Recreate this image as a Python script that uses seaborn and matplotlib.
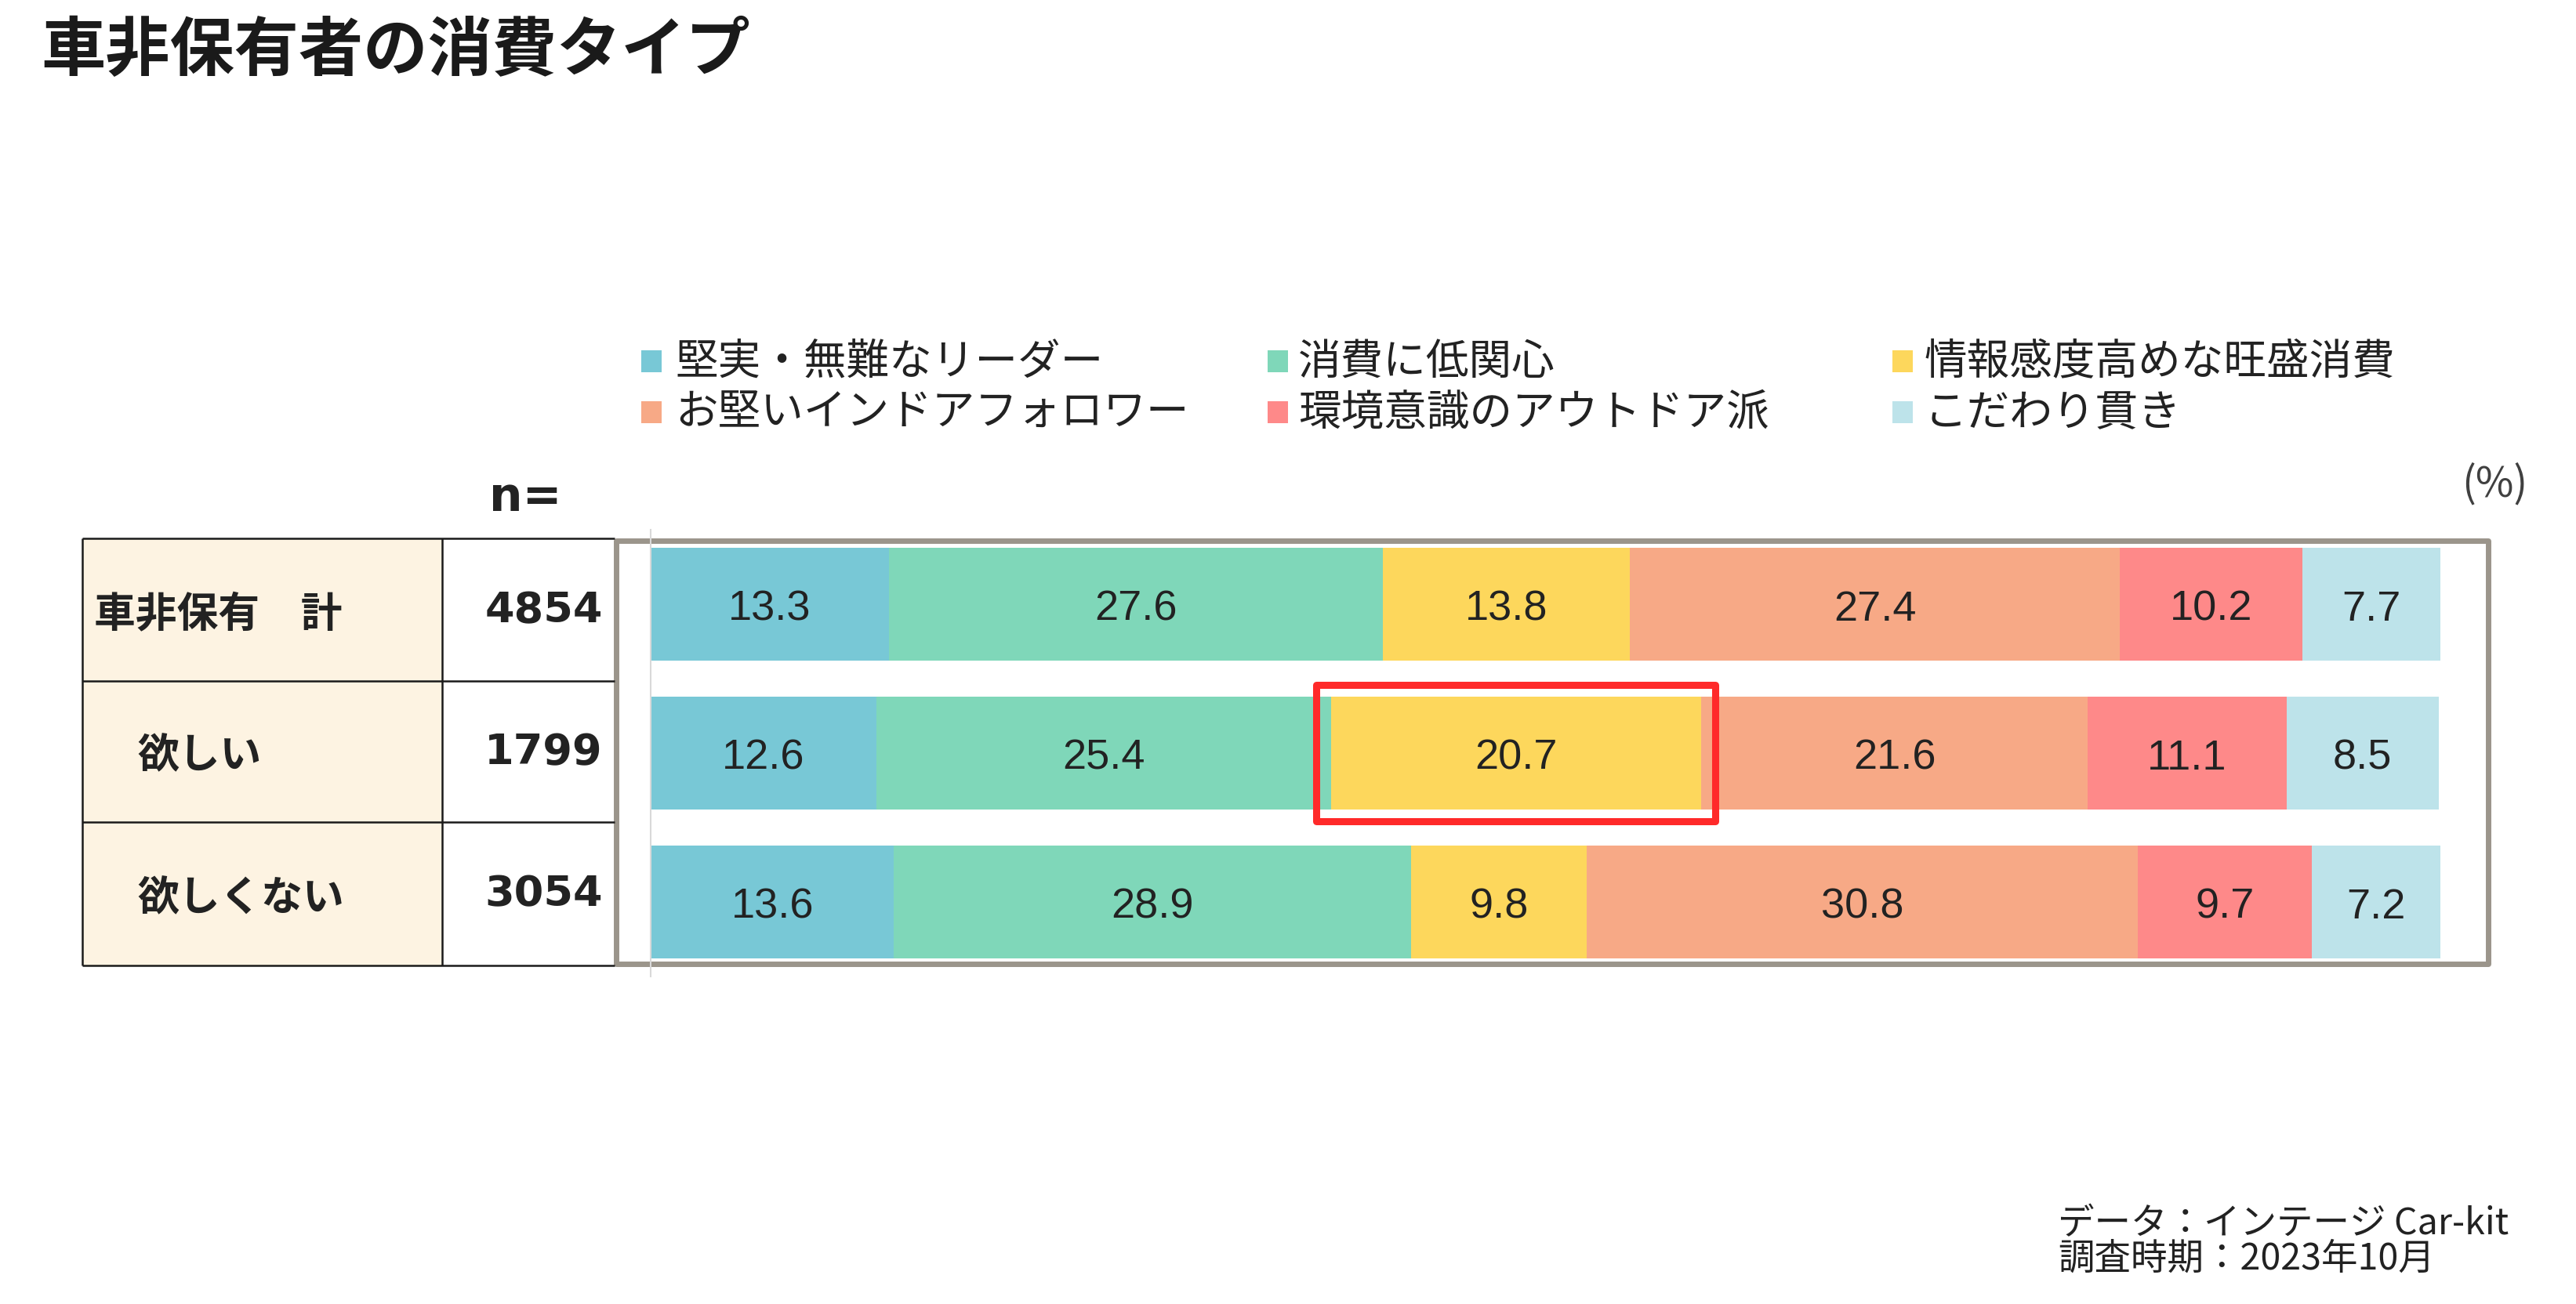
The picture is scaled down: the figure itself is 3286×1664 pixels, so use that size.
import numpy as np
import pandas as pd
import matplotlib
matplotlib.use('Agg')
import matplotlib.pyplot as plt
import seaborn as sns
from matplotlib.patches import Rectangle

# ---------------- data ----------------
title = '車非保有者の消費タイプ'
row_labels = ['車非保有\u3000計', '欲しい', '欲しくない']
n_values = [4854, 1799, 3054]
series_names = ['堅実・無難なリーダー', '消費に低関心', '情報感度高めな旺盛消費',
                'お堅いインドアフォロワー', '環境意識のアウトドア派', 'こだわり貫き']
leader = [13.3, 12.6, 13.6]
low_interest = [27.6, 25.4, 28.9]
active = [13.8, 20.7, 9.8]
indoor = [27.4, 21.6, 30.8]
outdoor = [10.2, 11.1, 9.7]
kodawari = [7.7, 8.5, 7.2]
series_values = [leader, low_interest, active, indoor, outdoor, kodawari]
colors = ['#78c8d6', '#7fd7b9', '#fdd75c', '#f7a986', '#fe8989', '#bde3ea']
highlight_row = 1
highlight_series = 2
unit_label = '(%)'
n_header = 'n='
source_lines = ['データ：インテージ Car-kit', '調査時期：2023年10月']

# ---------------- style ----------------
sns.set_theme(style='white')
plt.rcParams['font.family'] = ['Noto Sans CJK JP', 'DejaVu Sans']

W, H = 3287, 1665
fig = plt.figure(figsize=(W / 100, H / 100), dpi=100)
fig.patch.set_facecolor('white')

ax = fig.add_axes([830 / W, 1 - 1247 / H, 2283 / W, 570 / H])
ov = fig.add_axes([0, 0, 1, 1])
ov.set_xlim(0, W)
ov.set_ylim(H, 0)
ov.axis('off')
ov.set_zorder(0)
ax.set_zorder(1)
ax.patch.set_alpha(0)

vals = np.array(series_values)
cum = np.cumsum(vals, axis=0)

# stacked bars (draw cumulative totals from the last series backwards)
for k in reversed(range(len(series_values))):
    d = pd.DataFrame({'row': row_labels, 'cum': cum[k]})
    sns.barplot(data=d, x='cum', y='row', orient='h', order=row_labels,
                color=colors[k], saturation=1, width=0.76, linewidth=0,
                ax=ax)

for k in range(len(series_values)):
    for i in range(len(row_labels)):
        ax.text(cum[k][i] - vals[k][i] / 2, i + 0.03, f'{vals[k][i]:.1f}',
                ha='center', va='center', fontsize=39, color='#222222',
                family=['Liberation Sans', 'DejaVu Sans'], zorder=4)

ax.set_xlim(0, 100)
ax.set_ylim(2.5, -0.5)
ax.set_xlabel('')
ax.set_ylabel('')
ax.set_xticks([])
ax.set_yticks([])
for s in ['top', 'right', 'bottom']:
    ax.spines[s].set_visible(False)
ax.spines['left'].set_color('#d9d9d9')
ax.spines['left'].set_linewidth(1.5)

# highlight box
x0 = cum[highlight_series - 1][highlight_row]
x1 = cum[highlight_series][highlight_row]
ax.add_patch(Rectangle((x0 - 0.8, highlight_row - 0.458), (x1 - x0) + 1.6, 0.916,
                       fill=False, ec='#ff2a2a', lw=6.5, joinstyle='round',
                       clip_on=False, zorder=6))

# grey frame around bars
ov.add_patch(Rectangle((786.5, 690.5), 3174.5 - 786.5, 1230.5 - 690.5,
                       fill=False, ec='#9b958b', lw=5, joinstyle='round'))

# table
row_edges = [688, 870, 1050, 1233]
ov.add_patch(Rectangle((105, 688), 564 - 105, 1233 - 688, fc='#fdf3e2', ec='none'))
for y in row_edges:
    ov.plot([105, 784], [y, y], color='#1a1a1a', lw=1.8, solid_capstyle='butt')
for x in [105, 564]:
    ov.plot([x, x], [688, 1233], color='#1a1a1a', lw=1.8, solid_capstyle='butt')

for i, (lab, n) in enumerate(zip(row_labels, n_values)):
    yc = (row_edges[i] + row_edges[i + 1]) / 2
    ov.text(120 if i == 0 else 175, yc + 5, lab, ha='left', va='center',
            fontsize=38, fontweight='bold', color='#222222')
    ov.text(769, yc, f'{n}', ha='right', va='center', fontsize=39,
            fontweight='bold', color='#222222', family=['DejaVu Sans'])

ov.text(670, 652, n_header, ha='center', va='baseline', fontsize=43,
        fontweight='bold', color='#222222', family=['DejaVu Sans'])
ov.text(3182, 618, unit_label, ha='center', va='center', fontsize=38,
        color='#404040')

# title
ov.text(52, 66, title, ha='left', va='center', fontsize=59.2,
        fontweight='bold', color='#1a1a1a')

# legend (row-major, 3 columns)
sq_x = [831, 1630, 2427]
tx_x = [861, 1656, 2455]
leg_y = [462, 527]
for idx, name in enumerate(series_names):
    r, c = divmod(idx, 3)
    ov.add_patch(Rectangle((sq_x[c] - 13, leg_y[r] - 14), 26, 28,
                           fc=colors[idx], ec='none'))
    ov.text(tx_x[c], leg_y[r], name, ha='left', va='center', fontsize=39.3,
            color='#222222')

# source
for j, line in enumerate(source_lines):
    ov.text(2625, 1562 + 44 * j, line, ha='left', va='center', fontsize=33.5,
            color='#222222')

fig.savefig('out.png', dpi=100, facecolor='white')
